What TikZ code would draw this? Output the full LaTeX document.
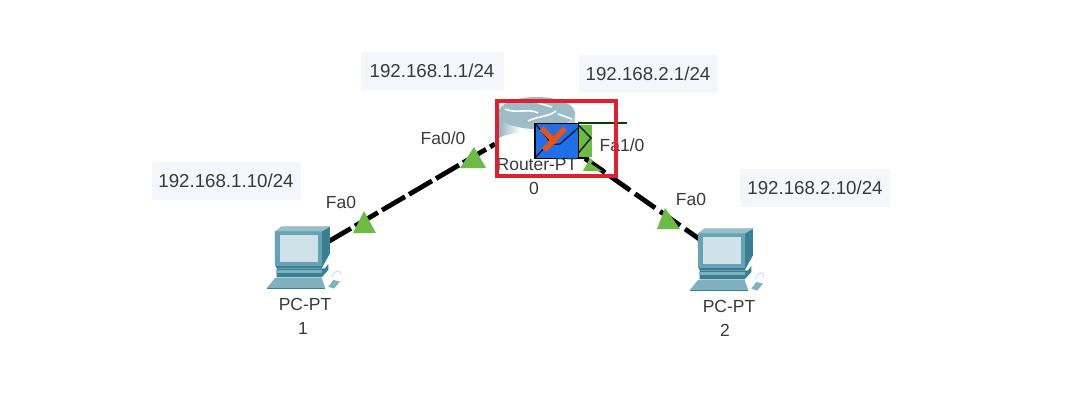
\documentclass[tikz,border=0pt]{standalone}
\usepackage{fontspec}
\setmainfont{Liberation Sans}
\definecolor{ipbg}{HTML}{F5F6FB}
\definecolor{ptgreen}{HTML}{6CBB45}
\definecolor{txt}{HTML}{3A3A3A}
\definecolor{pcdark}{HTML}{3A8094}
\definecolor{pcfront}{HTML}{68A3B5}
\definecolor{pcmid}{HTML}{7FB0BE}
\definecolor{pcscreen}{HTML}{CFE2EA}
\definecolor{boxred}{HTML}{E0202F}
\definecolor{rtop}{HTML}{9DBCC6}
\definecolor{rleft}{HTML}{8FB3BE}
\definecolor{rright}{HTML}{B4CAD2}
\definecolor{envblue}{HTML}{1E6FE8}
\definecolor{xred}{HTML}{EA5218}
\pgfdeclarehorizontalshading{rbody}{100bp}{color(0bp)=(rleft); color(25bp)=(rleft); color(40bp)=(white); color(75bp)=(rright); color(100bp)=(rright)}
\tikzset{
 iplabel/.style={fill=ipbg,text=txt,font=\fontsize{18.7}{20}\selectfont,inner sep=0pt,minimum width=#1,minimum height=38},
 devlabel/.style={text=txt,font=\fontsize{17.5}{20}\selectfont,inner sep=0pt},
 link/.style={line width=4.8,black},
 porttri/.style={fill=ptgreen,draw=none},
 pcpic/.pic={
  \begin{scope}[x=0.3333pt,y=-0.3333pt]
   \fill[pcdark] (75,125)--(95,110)--(240,110)--(240,190)--(215,235)--(80,235)--(75,225)--cycle;
   \fill[pcmid!80!white] (75,125)--(95,110)--(240,110)--(215,125)--cycle;
   \fill[pcfront] (75,125) rectangle (215,228);
   \fill[pcscreen] (90,135) rectangle (205,215);
   \fill[pcdark] (80,235)--(225,235)--(235,222)--(235,240)--(215,262)--(80,262)--cycle;
   \fill[pcmid] (78,240)--(215,240)--(215,250)--(78,250)--cycle;
   \fill[pcmid] (50,295)--(75,264)--(215,264)--(226,295)--cycle;
   \fill[pcdark] (50,295) rectangle (226,298);
   \fill[pcmid] (235,290)--(250,270)--(270,275)--(252,296)--cycle;
   \draw[pcscreen,line width=1] (245,262) .. controls (255,235) and (275,240) .. (272,255);
  \end{scope}
 }
}
\begin{document}
\begin{tikzpicture}[x=1pt,y=-1pt]
\useasboundingbox (0,0) rectangle (1080,418);
\fill[white] (0,0) rectangle (1080,418);

% IP labels
\node[iplabel=143] (ip1) at (432,71) {192.168.1.1/24};
\node[iplabel=139] (ip2) at (648,74) {192.168.2.1/24};
\node[iplabel=149] (ip3) at (226,181) {192.168.1.10/24};
\node[iplabel=150] (ip4) at (815,188) {192.168.2.10/24};

\coordinate (rportl) at (495,144);
\coordinate (rportr) at (585,158.5);
\coordinate (pcportl) at (328,241.8);
\coordinate (pcportr) at (700,239.5);

% Links
\draw[link,dash pattern=on 26.6 off 4.7] (pcportl) -- (rportl);
\draw[link,dash pattern=on 24.6 off 6] (rportr) -- (pcportr);

% Router body
\shade[shading=rbody] (498,113) -- (498,140) arc[start angle=180,end angle=360,x radius=38.5,y radius=8] -- (575,113) -- cycle;
\fill[rtop] (536.5,113) ellipse[x radius=38.5,y radius=16];
\draw[white,line width=1.6] (505,109) .. controls (515,114) and (530,108) .. (538,113) (528,121) .. controls (538,116) and (548,117) .. (556,111) (558,114) -- (572,119) (538,103) -- (552,107);

% Port triangles
\fill[porttri] (460,168)--(474,147)--(486,168)--cycle;
\fill[porttri] (583,171)--(590,158)--(603,171)--cycle;
\fill[porttri] (353,233)--(364,211)--(376,233)--cycle;
\fill[porttri] (657,229)--(665,208)--(680,229)--cycle;
\draw[black,line width=3] (592,162.5) -- (604,170.5);

% PCs
\pic at (250,190) {pcpic};
\pic at (673,192) {pcpic};

% Router overlay icon
\fill[black!75!green] (578,122.3) rectangle (627,124);
\fill[ptgreen] (578.3,125) rectangle (591.7,157);
\draw[black,line width=1.2] (578.3,125) -- (591,138) -- (578.3,153);
\fill[envblue] (535,123.3) rectangle (578.3,158.3);
\draw[black,line width=1] (535,123.3) -- (552,144) -- (560,144) -- (578,128);
\draw[black,line width=1] (535,158) -- (546,146);
\draw[xred,line width=5.5] (541.7,128.3) -- (556,143);
\draw[xred,line width=5.5] (565,128.3) -- (544,150);
\draw[black,line width=1.6] (535,123.3) rectangle (578.3,158.3);
\draw[black,line width=2] (578,157.5) -- (589,157.5);

% Device labels
\node[devlabel] (fa00) at (443,138) {Fa0/0};
\node[devlabel] (fa10) at (622,145) {Fa1/0};
\node[devlabel] (rname) at (537,165) {Router-PT};
\node[devlabel] (rnum) at (534,188) {0};
\node[devlabel] (fa0a) at (341,202) {Fa0};
\node[devlabel] (fa0b) at (691,199) {Fa0};
\node[devlabel] (pc1) at (305,304) {PC-PT};
\node[devlabel] (pc1n) at (303,328) {1};
\node[devlabel] (pc2) at (729,306) {PC-PT};
\node[devlabel] (pc2n) at (725,330) {2};

% Red box
\draw[boxred,line width=4] (497,101) rectangle (616,176);
\end{tikzpicture}
\end{document}
